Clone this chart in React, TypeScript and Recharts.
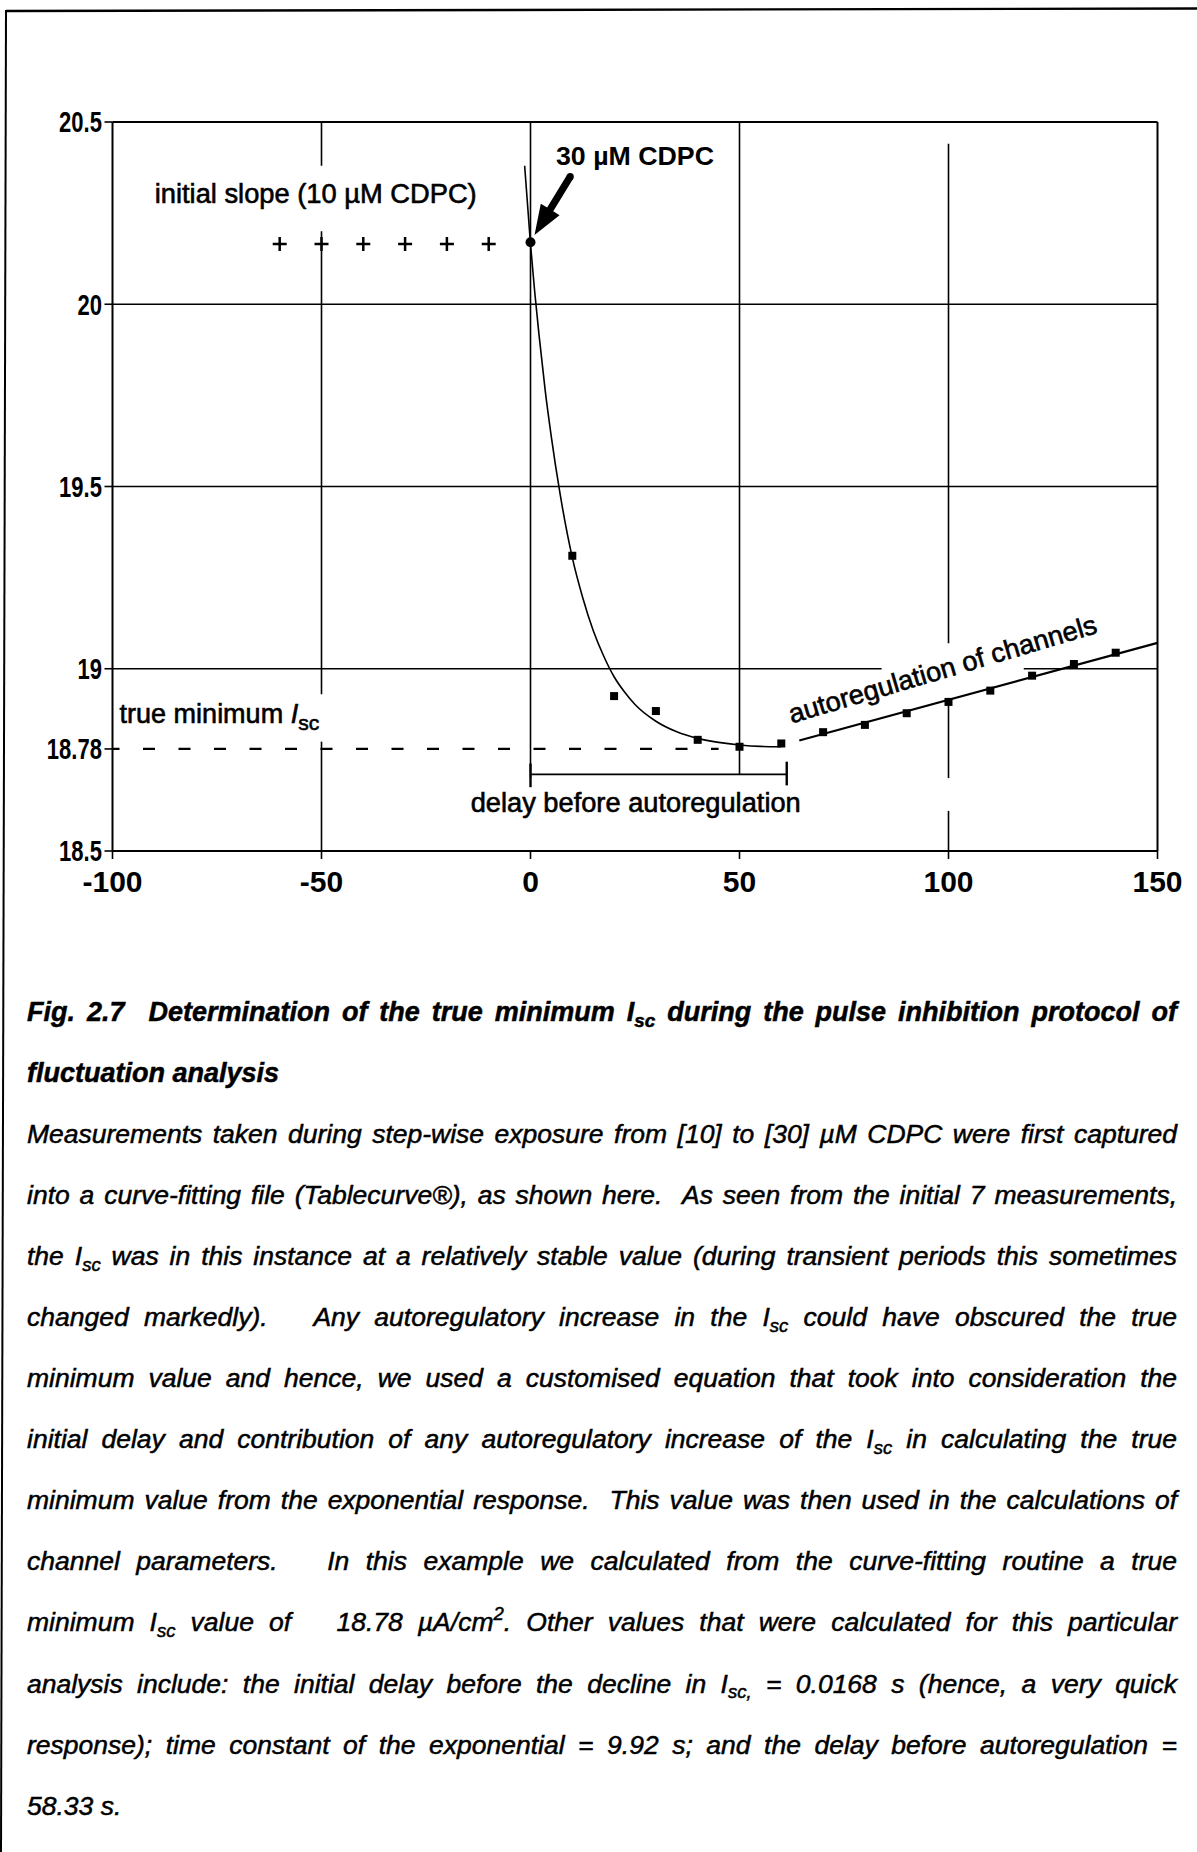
import React from 'react';
import {
  ComposedChart,
  XAxis,
  YAxis,
  Line,
  Scatter,
  ReferenceLine,
  ReferenceDot,
} from 'recharts';

const FONT = '"Liberation Sans", Arial, Helvetica, sans-serif';
const INK = '#000';

// Axis ticks: time (s) and short-circuit current (µA/cm²)
const timeTicks = [-100, -50, 0, 50, 100, 150];
const iscTicks = [18.5, 18.78, 19, 19.5, 20, 20.5];

// Initial slope readings at 10 µM CDPC
const baselineTimes = [-60, -50, -40, -30, -20, -10];
const baselineIsc = [20.165, 20.165, 20.165, 20.165, 20.165, 20.165];

// Reading at the moment 30 µM CDPC was added
const onsetTimes = [0];
const onsetIsc = [20.17];

// Readings after the step to 30 µM CDPC
const responseTimes = [10, 20, 30, 40, 50, 60, 70, 80, 90, 100, 110, 120, 130, 140];
const responseIsc = [
  19.31, 18.925, 18.884, 18.805, 18.786, 18.795, 18.826, 18.846, 18.878, 18.909, 18.94,
  18.981, 19.013, 19.044,
];

// Fitted exponential decline
const fitTimes = [-1.4, 0, 1, 2, 3.5, 5, 7, 10, 12.5, 15, 17.5, 20, 22.5, 25, 30, 35, 40, 45, 50, 55, 60];
const fitIsc = [
  20.38, 20.165, 20.035, 19.92, 19.765, 19.635, 19.485, 19.305, 19.195, 19.105, 19.035, 18.978,
  18.936, 18.902, 18.856, 18.827, 18.809, 18.798, 18.791, 18.787, 18.786,
];

// Fitted autoregulatory rise
const riseTimes = [64.3, 150];
const riseIsc = [18.803, 19.071];

const trueMinimumIsc = 18.78;
const delayStart = 0;
const delayEnd = 61.3;

// Grid rules, broken where the annotations sit over them
const verticalRules = [
  { t: -50, from: 20.5, to: 20.38 },
  { t: -50, from: 20.2, to: 18.93 },
  { t: -50, from: 18.8, to: 18.5 },
  { t: 0, from: 20.5, to: 18.7 },
  { t: 50, from: 20.5, to: 18.71 },
  { t: 100, from: 20.44, to: 19.07 },
  { t: 100, from: 18.92, to: 18.7 },
  { t: 100, from: 18.61, to: 18.5 },
];
const horizontalRules = [
  { v: 20, from: -100, to: 150 },
  { v: 19.5, from: -100, to: 150 },
  { v: 19, from: -100, to: 84 },
  { v: 19, from: 118, to: 150 },
];

// Caption text; _{..} marks a subscript, ^{..} a superscript
const captionTitle = [
  'Fig. 2.7  Determination of the true minimum I_{sc} during the pulse inhibition protocol of',
  'fluctuation analysis',
];
const captionBody = [
  'Measurements taken during step-wise exposure from [10] to [30] µM CDPC were first captured',
  'into a curve-fitting file (Tablecurve®), as shown here.  As seen from the initial 7 measurements,',
  'the I_{sc} was in this instance at a relatively stable value (during transient periods this sometimes',
  'changed markedly).   Any autoregulatory increase in the I_{sc} could have obscured the true',
  'minimum value and hence, we used a customised equation that took into consideration the',
  'initial delay and contribution of any autoregulatory increase of the I_{sc} in calculating the true',
  'minimum value from the exponential response.  This value was then used in the calculations of',
  'channel parameters.   In this example we calculated from the curve-fitting routine a true',
  'minimum I_{sc} value of   18.78 µA/cm^{2}. Other values that were calculated for this particular',
  'analysis include: the initial delay before the decline in I_{sc,} = 0.0168 s (hence, a very quick',
  'response); time constant of the exponential = 9.92 s; and the delay before autoregulation =',
  '58.33 s.',
];

const zip = (ts: number[], vs: number[]) => ts.map((t, i) => ({ t, v: vs[i] }));

const baselineData = zip(baselineTimes, baselineIsc);
const onsetData = zip(onsetTimes, onsetIsc);
const responseData = zip(responseTimes, responseIsc);
const fitData = zip(fitTimes, fitIsc);
const riseData = zip(riseTimes, riseIsc);

const squareShape = (p: any) => (
  <rect x={p.cx - 4} y={p.cy - 4} width={8} height={8} fill={INK} />
);
const roundShape = (p: any) => <circle cx={p.cx} cy={p.cy} r={5} fill={INK} />;
const plusShape = (p: any) => (
  <g stroke={INK} strokeWidth={2.5}>
    <line x1={p.cx - 7} y1={p.cy} x2={p.cx + 7} y2={p.cy} />
    <line x1={p.cx} y1={p.cy - 7} x2={p.cx} y2={p.cy + 7} />
  </g>
);

// Filled arrow from (x1,y1) to the tip at (x2,y2)
const arrowShape = (p: any) => {
  const { x1, y1, x2, y2 } = p;
  const dx = x2 - x1;
  const dy = y2 - y1;
  const len = Math.hypot(dx, dy) || 1;
  const ux = dx / len;
  const uy = dy / len;
  const nx = -uy;
  const ny = ux;
  const headLen = 30;
  const headHalf = 11;
  const shaft = 3.6;
  const bx = x2 - ux * headLen;
  const by = y2 - uy * headLen;
  const pts = [
    [x1 + nx * shaft, y1 + ny * shaft],
    [bx + nx * shaft, by + ny * shaft],
    [bx + nx * headHalf, by + ny * headHalf],
    [x2, y2],
    [bx - nx * headHalf, by - ny * headHalf],
    [bx - nx * shaft, by - ny * shaft],
    [x1 - nx * shaft, y1 - ny * shaft],
  ];
  return (
    <g>
      <polygon points={pts.map((q) => q.join(',')).join(' ')} fill={INK} />
      <circle cx={x1} cy={y1} r={shaft} fill={INK} />
    </g>
  );
};

// Narrow bold labels on the current axis
const IscTick = (props: any) => {
  const { x, y, payload } = props;
  return (
    <text
      x={0}
      y={0}
      transform={`translate(${x},${y}) scale(0.76,1)`}
      textAnchor="end"
      dy="0.36em"
      fontSize={29}
      fontWeight={700}
      fontFamily={FONT}
      fill={INK}
    >
      {payload.value}
    </text>
  );
};

const noteStyle = { fontFamily: FONT, fill: INK } as React.CSSProperties;
const noteInk = { stroke: INK, strokeWidth: 0.6 };

function Rich({ text }: { text: string }) {
  const parts: React.ReactNode[] = [];
  const re = /([_^])\{([^}]*)\}/g;
  let last = 0;
  let m: RegExpExecArray | null;
  while ((m = re.exec(text))) {
    if (m.index > last) parts.push(text.slice(last, m.index));
    parts.push(
      <span
        key={m.index}
        style={{
          fontSize: '0.7em',
          position: 'relative',
          top: m[1] === '_' ? '0.32em' : '-0.6em',
        }}
      >
        {m[2]}
      </span>
    );
    last = re.lastIndex;
  }
  if (last < text.length) parts.push(text.slice(last));
  return <>{parts}</>;
}

function CaptionLine({ text, justify }: { text: string; justify: boolean }) {
  if (!justify) {
    return (
      <div style={{ whiteSpace: 'pre', height: 61.1 }}>
        <Rich text={text} />
      </div>
    );
  }
  const tokens = text.split(/( +)/).filter((s) => s.length > 0);
  return (
    <div style={{ display: 'flex', whiteSpace: 'pre', height: 61.1 }}>
      {tokens.map((tk, i) =>
        tk.trim() === '' ? (
          <span key={i} style={{ flex: `${tk.length} 1 ${tk.length * 0.2}em` }} />
        ) : (
          <span key={i} style={{ flex: '0 0 auto' }}>
            <Rich text={tk} />
          </span>
        )
      )}
    </div>
  );
}

export default function App() {
  return (
    <div
      style={{
        position: 'absolute',
        left: 0,
        top: 0,
        width: 1197,
        height: 1852,
        background: '#fff',
        fontFamily: FONT,
        color: INK,
        overflow: 'hidden',
      }}
    >
      <svg width={1197} height={1852} style={{ position: 'absolute', left: 0, top: 0 }}>
        <line x1={6} y1={11} x2={1197} y2={8.5} stroke={INK} strokeWidth={2.4} />
        <line x1={6} y1={10} x2={1} y2={1852} stroke={INK} strokeWidth={2} />
      </svg>

      <div style={{ position: 'absolute', left: 0, top: 0 }}>
        <ComposedChart
          width={1197}
          height={900}
          margin={{ top: 122, right: 39.5, bottom: 9, left: 12.5 }}
        >
          <XAxis
            dataKey="t"
            type="number"
            domain={[-100, 150]}
            ticks={timeTicks}
            interval={0}
            allowDataOverflow
            height={40}
            axisLine={{ stroke: INK, strokeWidth: 2 }}
            tickLine={{ stroke: INK, strokeWidth: 1.6 }}
            tickSize={8}
            tickMargin={12}
            tick={{ fill: INK, fontSize: 30, fontWeight: 700, fontFamily: FONT }}
          />
          <YAxis
            dataKey="v"
            type="number"
            domain={[18.5, 20.5]}
            ticks={iscTicks}
            interval={0}
            allowDataOverflow
            width={100}
            axisLine={{ stroke: INK, strokeWidth: 2 }}
            tickLine={{ stroke: INK, strokeWidth: 1.6 }}
            tickSize={8}
            tickMargin={2.5}
            tick={IscTick}
          />

          {/* plot frame */}
          <ReferenceLine y={20.5} stroke={INK} strokeWidth={2.2} />
          <ReferenceLine x={150} stroke={INK} strokeWidth={2} />

          {verticalRules.map((r, i) => (
            <ReferenceLine
              key={`vr${i}`}
              segment={[
                { x: r.t, y: r.from },
                { x: r.t, y: r.to },
              ]}
              stroke={INK}
              strokeWidth={1.6}
            />
          ))}
          {horizontalRules.map((r, i) => (
            <ReferenceLine
              key={`hr${i}`}
              segment={[
                { x: r.from, y: r.v },
                { x: r.to, y: r.v },
              ]}
              stroke={INK}
              strokeWidth={1.6}
            />
          ))}

          {/* true minimum */}
          <ReferenceLine
            segment={[
              { x: -100, y: trueMinimumIsc },
              { x: 45, y: trueMinimumIsc },
            ]}
            stroke={INK}
            strokeWidth={2.2}
            strokeDasharray="12 23.5"
            strokeDashoffset={5}
          />

          {/* delay before autoregulation bracket */}
          <ReferenceLine
            segment={[
              { x: delayStart, y: 18.71 },
              { x: delayEnd, y: 18.71 },
            ]}
            stroke={INK}
            strokeWidth={1.8}
          />
          <ReferenceLine
            segment={[
              { x: delayStart, y: 18.74 },
              { x: delayStart, y: 18.675 },
            ]}
            stroke={INK}
            strokeWidth={2.4}
          />
          <ReferenceLine
            segment={[
              { x: delayEnd, y: 18.745 },
              { x: delayEnd, y: 18.68 },
            ]}
            stroke={INK}
            strokeWidth={2.4}
          />

          <Line
            data={fitData}
            dataKey="v"
            type="monotone"
            stroke={INK}
            strokeWidth={1.6}
            dot={false}
            activeDot={false}
            isAnimationActive={false}
          />
          <Line
            data={riseData}
            dataKey="v"
            type="linear"
            stroke={INK}
            strokeWidth={2.2}
            dot={false}
            activeDot={false}
            isAnimationActive={false}
          />

          <Scatter data={baselineData} dataKey="v" shape={plusShape} isAnimationActive={false} />
          <Scatter data={onsetData} dataKey="v" shape={roundShape} isAnimationActive={false} />
          <Scatter data={responseData} dataKey="v" shape={squareShape} isAnimationActive={false} />

          {/* arrow marking the 30 µM CDPC addition */}
          <ReferenceLine
            segment={[
              { x: 9.5, y: 20.35 },
              { x: 0.96, y: 20.19 },
            ]}
            shape={arrowShape}
          />

          <ReferenceDot
            x={-89.9}
            y={20.277}
            r={0}
            ifOverflow="visible"
            shape={(p: any) => (
              <text x={p.cx} y={p.cy} fontSize={27} textLength={322} lengthAdjust="spacingAndGlyphs" style={noteStyle} {...noteInk}>
                initial slope (10 µM CDPC)
              </text>
            )}
          />
          <ReferenceDot
            x={6.1}
            y={20.382}
            r={0}
            ifOverflow="visible"
            shape={(p: any) => (
              <text x={p.cx} y={p.cy} fontSize={26} fontWeight={700} textLength={158} lengthAdjust="spacingAndGlyphs" style={noteStyle}>
                30 µM CDPC
              </text>
            )}
          />
          <ReferenceDot
            x={-98.3}
            y={18.85}
            r={0}
            ifOverflow="visible"
            shape={(p: any) => (
              <text x={p.cx} y={p.cy} fontSize={27} style={noteStyle} {...noteInk}>
                true minimum{' '}
                <tspan fontStyle="italic">I</tspan>
                <tspan fontSize={21} dy={7}>
                  sc
                </tspan>
              </text>
            )}
          />
          <ReferenceDot
            x={-14.3}
            y={18.607}
            r={0}
            ifOverflow="visible"
            shape={(p: any) => (
              <text x={p.cx} y={p.cy} fontSize={27} textLength={330} lengthAdjust="spacingAndGlyphs" style={noteStyle} {...noteInk}>
                delay before autoregulation
              </text>
            )}
          />
          <ReferenceDot
            x={62.5}
            y={18.85}
            r={0}
            ifOverflow="visible"
            shape={(p: any) => (
              <text
                x={p.cx}
                y={p.cy}
                fontSize={27}
                textLength={320}
                lengthAdjust="spacingAndGlyphs"
                transform={`rotate(-16.5 ${p.cx} ${p.cy})`}
                style={noteStyle}
                {...noteInk}
              >
                autoregulation of channels
              </text>
            )}
          />
        </ComposedChart>
      </div>

      <div
        style={{
          position: 'absolute',
          left: 27,
          top: 981.5,
          width: 1150,
          fontSize: 26.5,
          lineHeight: '61.1px',
          fontStyle: 'italic',
          fontFamily: FONT,
          color: INK,
          WebkitTextStroke: '0.5px #000',
        }}
      >
        {captionTitle.map((line, i) => (
          <div key={`t${i}`} style={{ fontWeight: 700, fontSize: 27 }}>
            <CaptionLine text={line} justify={i < captionTitle.length - 1} />
          </div>
        ))}
        {captionBody.map((line, i) => (
          <CaptionLine key={`b${i}`} text={line} justify={i < captionBody.length - 1} />
        ))}
      </div>
    </div>
  );
}
